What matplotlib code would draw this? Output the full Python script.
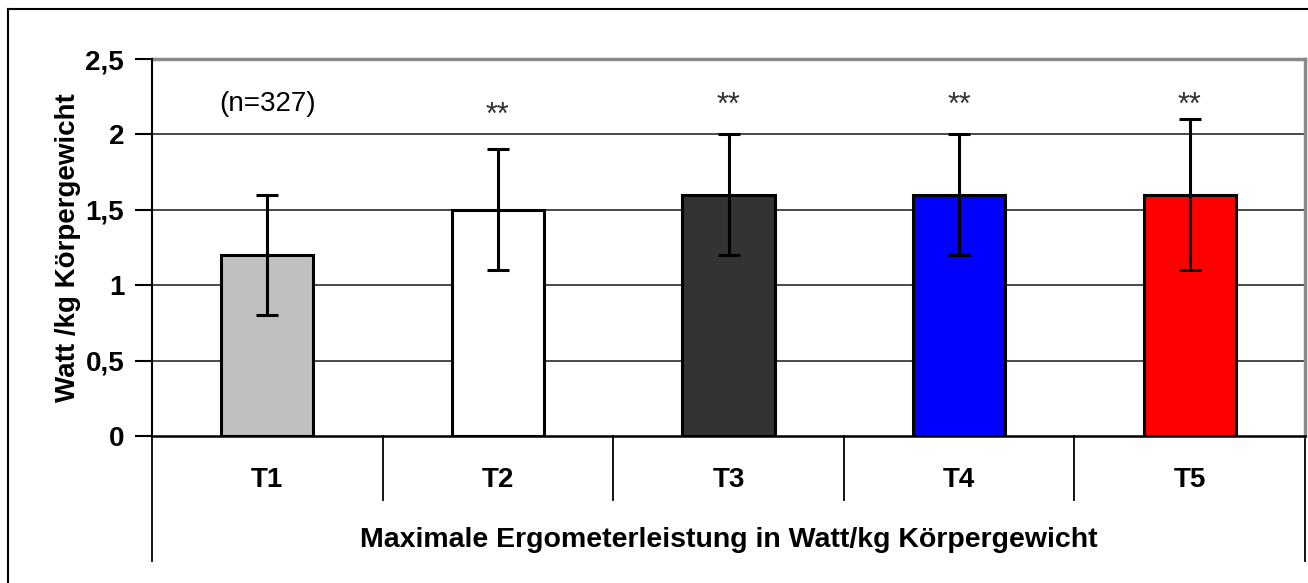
import matplotlib
matplotlib.use("Agg")
import matplotlib.pyplot as plt
from matplotlib.lines import Line2D

plt.rcParams['font.family'] = ['Liberation Sans', 'DejaVu Sans']

# Data
categories = ["T1", "T2", "T3", "T4", "T5"]
means = [1.2, 1.5, 1.6, 1.6, 1.6]
sds = [0.4, 0.4, 0.4, 0.4, 0.5]
bar_colors = ["#C0C0C0", "#FFFFFF", "#333333", "#0000FF", "#FF0000"]
star_labels = ["", "**", "**", "**", "**"]
sample_note = "(n=327)"
y_ticks = [0, 0.5, 1, 1.5, 2, 2.5]
y_tick_labels = ["0", "0,5", "1", "1,5", "2", "2,5"]
y_label = "Watt /kg Körpergewicht"
x_title = "Maximale Ergometerleistung in Watt/kg Körpergewicht"

# Annotation heights (data units)
star_y = [None, 2.12, 2.19, 2.19, 2.19]
note_y = 2.2

W, H = 1308, 583
fig = plt.figure(figsize=(W / 100, H / 100), dpi=100)

# Outer chart frame (left and top edges visible)
fig.add_artist(Line2D([8 / W, 8 / W], [0, 1 - 9 / H], color="black", lw=1.5,
                      transform=fig.transFigure))
fig.add_artist(Line2D([8 / W, 1], [1 - 9 / H, 1 - 9 / H], color="black", lw=1.5,
                      transform=fig.transFigure))

left, right = 152 / W, 1305 / W
bottom, top = 1 - 436 / H, 1 - 59 / H
ax = fig.add_axes([left, bottom, right - left, top - bottom])

n = len(categories)
x = list(range(n))
ax.set_xlim(-0.5, n - 0.5)
ax.set_ylim(0, 2.5)

# Gridlines
for yv in y_ticks[1:-1]:
    ax.axhline(yv, color="#3a3a3a", lw=1.3, zorder=1)

ax.bar(x, means, width=0.4, color=bar_colors, edgecolor="black", linewidth=2.2,
       zorder=3)
ax.errorbar(x, means, yerr=sds, fmt="none", ecolor="black", elinewidth=2.2,
            capsize=8, capthick=2.2, zorder=4)

for xi, lab, hy in zip(x, star_labels, star_y):
    if lab:
        ax.text(xi, hy, lab, ha="center", va="center", fontsize=22,
                color="#333333")
ax.text(0, note_y, sample_note, ha="center", va="center", fontsize=20,
        color="black")

# Spines
ax.spines["left"].set_color("black")
ax.spines["left"].set_linewidth(1.5)
ax.spines["bottom"].set_color("black")
ax.spines["bottom"].set_linewidth(1.8)
ax.spines["top"].set_color("#8a8a8a")
ax.spines["top"].set_linewidth(2.5)
ax.spines["right"].set_color("#8a8a8a")
ax.spines["right"].set_linewidth(2.5)
ax.spines["left"].set_zorder(5)
ax.spines["bottom"].set_zorder(5)

ax.set_yticks(y_ticks)
ax.set_yticklabels(y_tick_labels, fontsize=20, fontweight="bold")
ax.tick_params(axis="y", length=12, width=1.5, direction="out", pad=8)
ax.set_xticks([])

ax.set_ylabel(y_label, fontsize=20, fontweight="bold", labelpad=3)

# Category table below the axis
trans = ax.get_xaxis_transform()
px = 1 / 377.0
for b in range(1, n):
    ax.add_line(Line2D([b - 0.5, b - 0.5], [0, -64 * px], color="black", lw=1.3,
                       transform=trans, clip_on=False))
for b in (-0.5, n - 0.5):
    ax.add_line(Line2D([b, b], [0, -125 * px], color="black", lw=1.3,
                       transform=trans, clip_on=False))
for xi, c in zip(x, categories):
    ax.text(xi, -44 * px, c, transform=trans, ha="center", va="center",
            fontsize=20, fontweight="bold")
ax.text((n - 1) / 2, -104 * px, x_title, transform=trans, ha="center",
        va="center", fontsize=20.5, fontweight="bold")

fig.savefig("out.png", dpi=100)
